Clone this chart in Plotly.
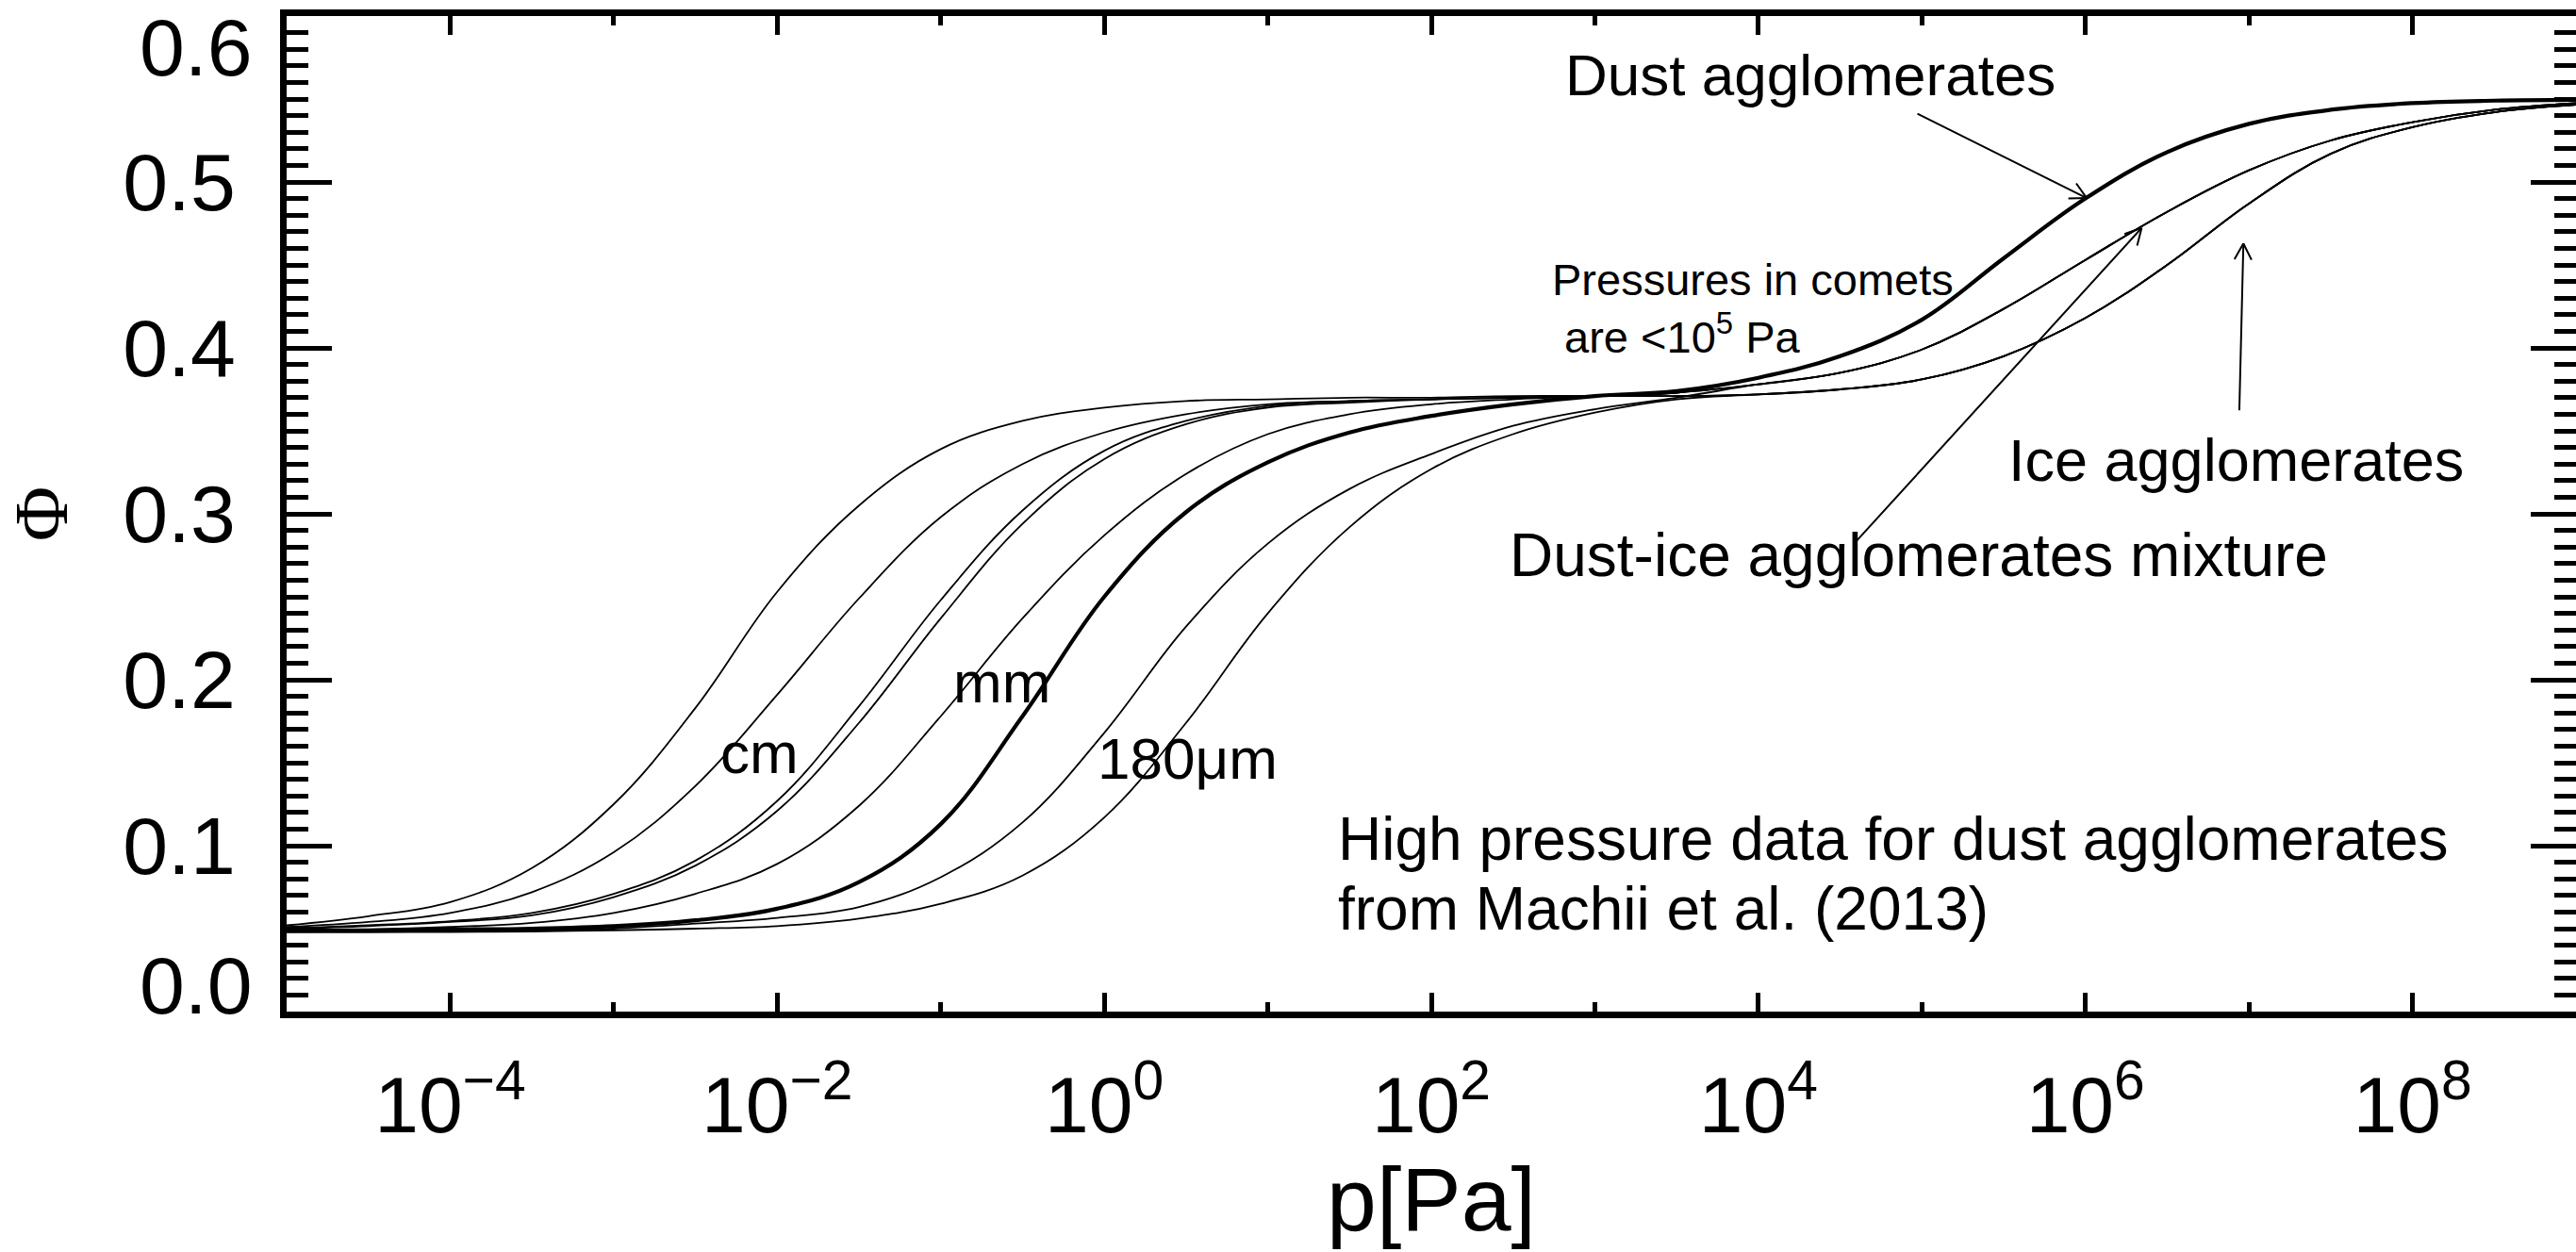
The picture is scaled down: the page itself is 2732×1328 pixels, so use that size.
import math
import plotly.graph_objects as go

# ---------------- data ----------------
# log10(p / Pa) sample positions
logp_low = [-5.0, -4.5, -4.0, -3.5, -3.0, -2.5, -2.0, -1.5, -1.0, -0.5,
            0.0, 0.5, 1.0, 1.5, 2.0, 2.5, 3.0, 3.5]
logp_high = [4.0, 4.5, 5.0, 5.5, 6.0, 6.5, 7.0, 7.5, 8.0, 8.5, 9.0]

# low-pressure part of the eight curves (volume filling factor Phi)
phi_c1 = [0.052, 0.0575, 0.066, 0.0865, 0.125, 0.183, 0.253, 0.305, 0.339, 0.356,
          0.364, 0.368, 0.369, 0.370, 0.370, 0.371, 0.371, 0.371]
phi_c2 = [0.051, 0.054, 0.0595, 0.072, 0.096, 0.136, 0.191, 0.249, 0.298, 0.330,
          0.349, 0.360, 0.366, 0.368, 0.369, 0.370, 0.371, 0.373]
phi_c3 = [0.050, 0.052, 0.0545, 0.0595, 0.071, 0.091, 0.127, 0.184, 0.248, 0.302,
          0.338, 0.356, 0.365, 0.368, 0.369, 0.370, 0.371, 0.373]
phi_c4 = [0.050, 0.0515, 0.054, 0.058, 0.069, 0.088, 0.121, 0.174, 0.237, 0.294,
          0.333, 0.354, 0.364, 0.367, 0.369, 0.370, 0.371, 0.371]
phi_c5 = [0.049, 0.0495, 0.051, 0.0535, 0.0595, 0.071, 0.089, 0.124, 0.178, 0.237,
          0.287, 0.324, 0.348, 0.360, 0.366, 0.369, 0.371, 0.373]
phi_c6 = [0.0488, 0.049, 0.0495, 0.050, 0.0515, 0.055, 0.062, 0.078, 0.113, 0.178,
          0.250, 0.301, 0.331, 0.349, 0.359, 0.366, 0.371, 0.374]
phi_c7 = [0.048, 0.048, 0.0485, 0.049, 0.050, 0.053, 0.0565, 0.063, 0.081, 0.114,
          0.168, 0.232, 0.282, 0.315, 0.336, 0.353, 0.363, 0.370]
phi_c8 = [0.048, 0.048, 0.048, 0.0483, 0.049, 0.050, 0.0515, 0.056, 0.065, 0.082,
          0.117, 0.174, 0.240, 0.292, 0.327, 0.348, 0.361, 0.369]

# high-pressure branches
phi_dust = [0.382, 0.395, 0.417, 0.454, 0.490, 0.518, 0.535, 0.5435, 0.5475, 0.549, 0.5495]
phi_mixture = [0.378, 0.385, 0.399, 0.4235, 0.453, 0.482, 0.507, 0.525, 0.536, 0.5435, 0.5475]
phi_ice = [0.372, 0.375, 0.381, 0.395, 0.418, 0.450, 0.487, 0.517, 0.533, 0.542, 0.5465]

# axis ticks
x_major_exp = [-4, -2, 0, 2, 4, 6, 8]
x_minor_exp = [-3, -1, 1, 3, 5, 7]
x_tick_text = ["10<sup>\u2212%d</sup>" % -e if e < 0 else "10<sup>%d</sup>" % e for e in x_major_exp]
y_tick_vals = [0.0, 0.1, 0.2, 0.3, 0.4, 0.5, 0.6]
y_tick_text = ["0.0", "0.1", "0.2", "0.3", "0.4", "0.5", "0.6"]

# ---------------- figure ----------------
W, H = 2732, 1328
ML, MR, MT, MB = 304, 0, 17, 255
XR = [-5, 9]
YR = [0.0, 0.6]
SX = (W - ML - MR) / (XR[1] - XR[0])
SY = (H - MT - MB) / (YR[1] - YR[0])
FONT = "Liberation Sans, Arial, sans-serif"

curves = [
    (phi_c1, phi_ice, 1.8),
    (phi_c2, phi_mixture, 1.8),
    (phi_c3, phi_dust, 1.8),
    (phi_c4, phi_ice, 1.8),
    (phi_c5, phi_mixture, 1.8),
    (phi_c7, phi_mixture, 1.8),
    (phi_c8, phi_ice, 1.8),
    (phi_c6, phi_dust, 4.2),
]

fig = go.Figure()
xs = [10 ** v for v in logp_low + logp_high]
for low, high, w in curves:
    fig.add_trace(go.Scatter(
        x=xs, y=low + high, mode="lines",
        line=dict(color="black", width=w, shape="spline", smoothing=1.1),
        showlegend=False, hoverinfo="skip"))

fig.update_layout(
    width=W, height=H,
    margin=dict(l=ML, r=MR, t=MT, b=MB, autoexpand=False),
    paper_bgcolor="white", plot_bgcolor="white",
    font=dict(family=FONT, color="black"),
    showlegend=False,
)

fig.update_xaxes(
    type="log", range=XR, showgrid=False, zeroline=False,
    showline=True, linewidth=7, linecolor="black", mirror="allticks",
    ticks="inside", ticklen=20, tickwidth=5, tickcolor="black",
    tickmode="array", tickvals=[10 ** e for e in x_major_exp], ticktext=x_tick_text,
    tickfont=dict(size=84, family=FONT, color="black"),
    ticklabelstandoff=20,
    minor=dict(tickmode="array", tickvals=[10 ** e for e in x_minor_exp],
               ticks="inside", ticklen=10, tickwidth=5, tickcolor="black"),
    title=dict(text="p[Pa]", font=dict(size=95, family=FONT, color="black"), standoff=6),
)

fig.update_yaxes(
    range=YR, showgrid=False, zeroline=False,
    showline=True, linewidth=7, linecolor="black", mirror="allticks",
    ticks="inside", ticklen=48, tickwidth=5, tickcolor="black",
    tickmode="array", tickvals=y_tick_vals[1:-1], ticktext=y_tick_text[1:-1],
    tickfont=dict(size=86, family=FONT, color="black"),
    ticklabelstandoff=30,
    minor=dict(tick0=0, dtick=0.01, ticks="inside", ticklen=23, tickwidth=5, tickcolor="black"),
    title=dict(text="\u03a6", font=dict(size=80, family="Liberation Serif, serif", color="black"), standoff=70),
)

# end labels of the y axis sit inside the axis span
for v, t, sh in [(y_tick_vals[0], y_tick_text[0], 28), (y_tick_vals[-1], y_tick_text[-1], -33)]:
    fig.add_annotation(x=0, xref="paper", y=v, yref="y", text=t, showarrow=False,
                       xanchor="right", yanchor="middle", xshift=-34, yshift=sh,
                       font=dict(size=86, family=FONT, color="black"))

# text labels
labels = [
    ("Dust agglomerates", 2.813, 0.5645, 62),
    ("Pressures in comets", 2.735, 0.441, 47),
    ("\u00a0are &lt;10<sup>5</sup> Pa", 2.735, 0.4085, 47),
    ("Ice agglomerates", 5.523, 0.3324, 63),
    ("Dust-ice agglomerates mixture", 2.473, 0.2751, 64),
    ("High pressure data for dust agglomerates", 1.424, 0.1041, 64),
    ("from Machii et al. (2013)", 1.424, 0.0617, 64),
    ("cm", -2.353, 0.1557, 62),
    ("mm", -0.931, 0.1984, 62),
    ("180\u03bcm", -0.048, 0.1523, 62),
]
for text, lx, ly, fs in labels:
    fig.add_annotation(x=lx, y=ly, xref="x", yref="y", text=text, showarrow=False,
                       xanchor="left", yanchor="middle", borderpad=0,
                       font=dict(size=fs, family=FONT, color="black"))

# arrows (tail -> tip) in (log10 p, Phi)
arrows = [
    ((4.964, 0.5415), (6.008, 0.4903)),
    ((4.576, 0.2810), (6.344, 0.4723)),
    ((6.941, 0.3615), (6.966, 0.4629)),
]
BARB, ANG = 21, math.radians(28)
for tail, tip in arrows:
    fig.add_annotation(x=tip[0], y=tip[1], ax=tail[0], ay=tail[1], xref="x", yref="y",
                       axref="x", ayref="y", text="", showarrow=True, arrowhead=0,
                       arrowwidth=2, arrowcolor="black", standoff=0)
    dx = (tail[0] - tip[0]) * SX
    dy = -(tail[1] - tip[1]) * SY
    L = math.hypot(dx, dy)
    ux, uy = dx / L, dy / L
    for s in (1, -1):
        a = ANG * s
        bx = ux * math.cos(a) - uy * math.sin(a)
        by = ux * math.sin(a) + uy * math.cos(a)
        fig.add_annotation(x=tip[0], y=tip[1], xref="x", yref="y", ax=BARB * bx, ay=BARB * by,
                           axref="pixel", ayref="pixel", text="", showarrow=True, arrowhead=0,
                           arrowwidth=2, arrowcolor="black", standoff=0)

fig.write_html("out.html")
